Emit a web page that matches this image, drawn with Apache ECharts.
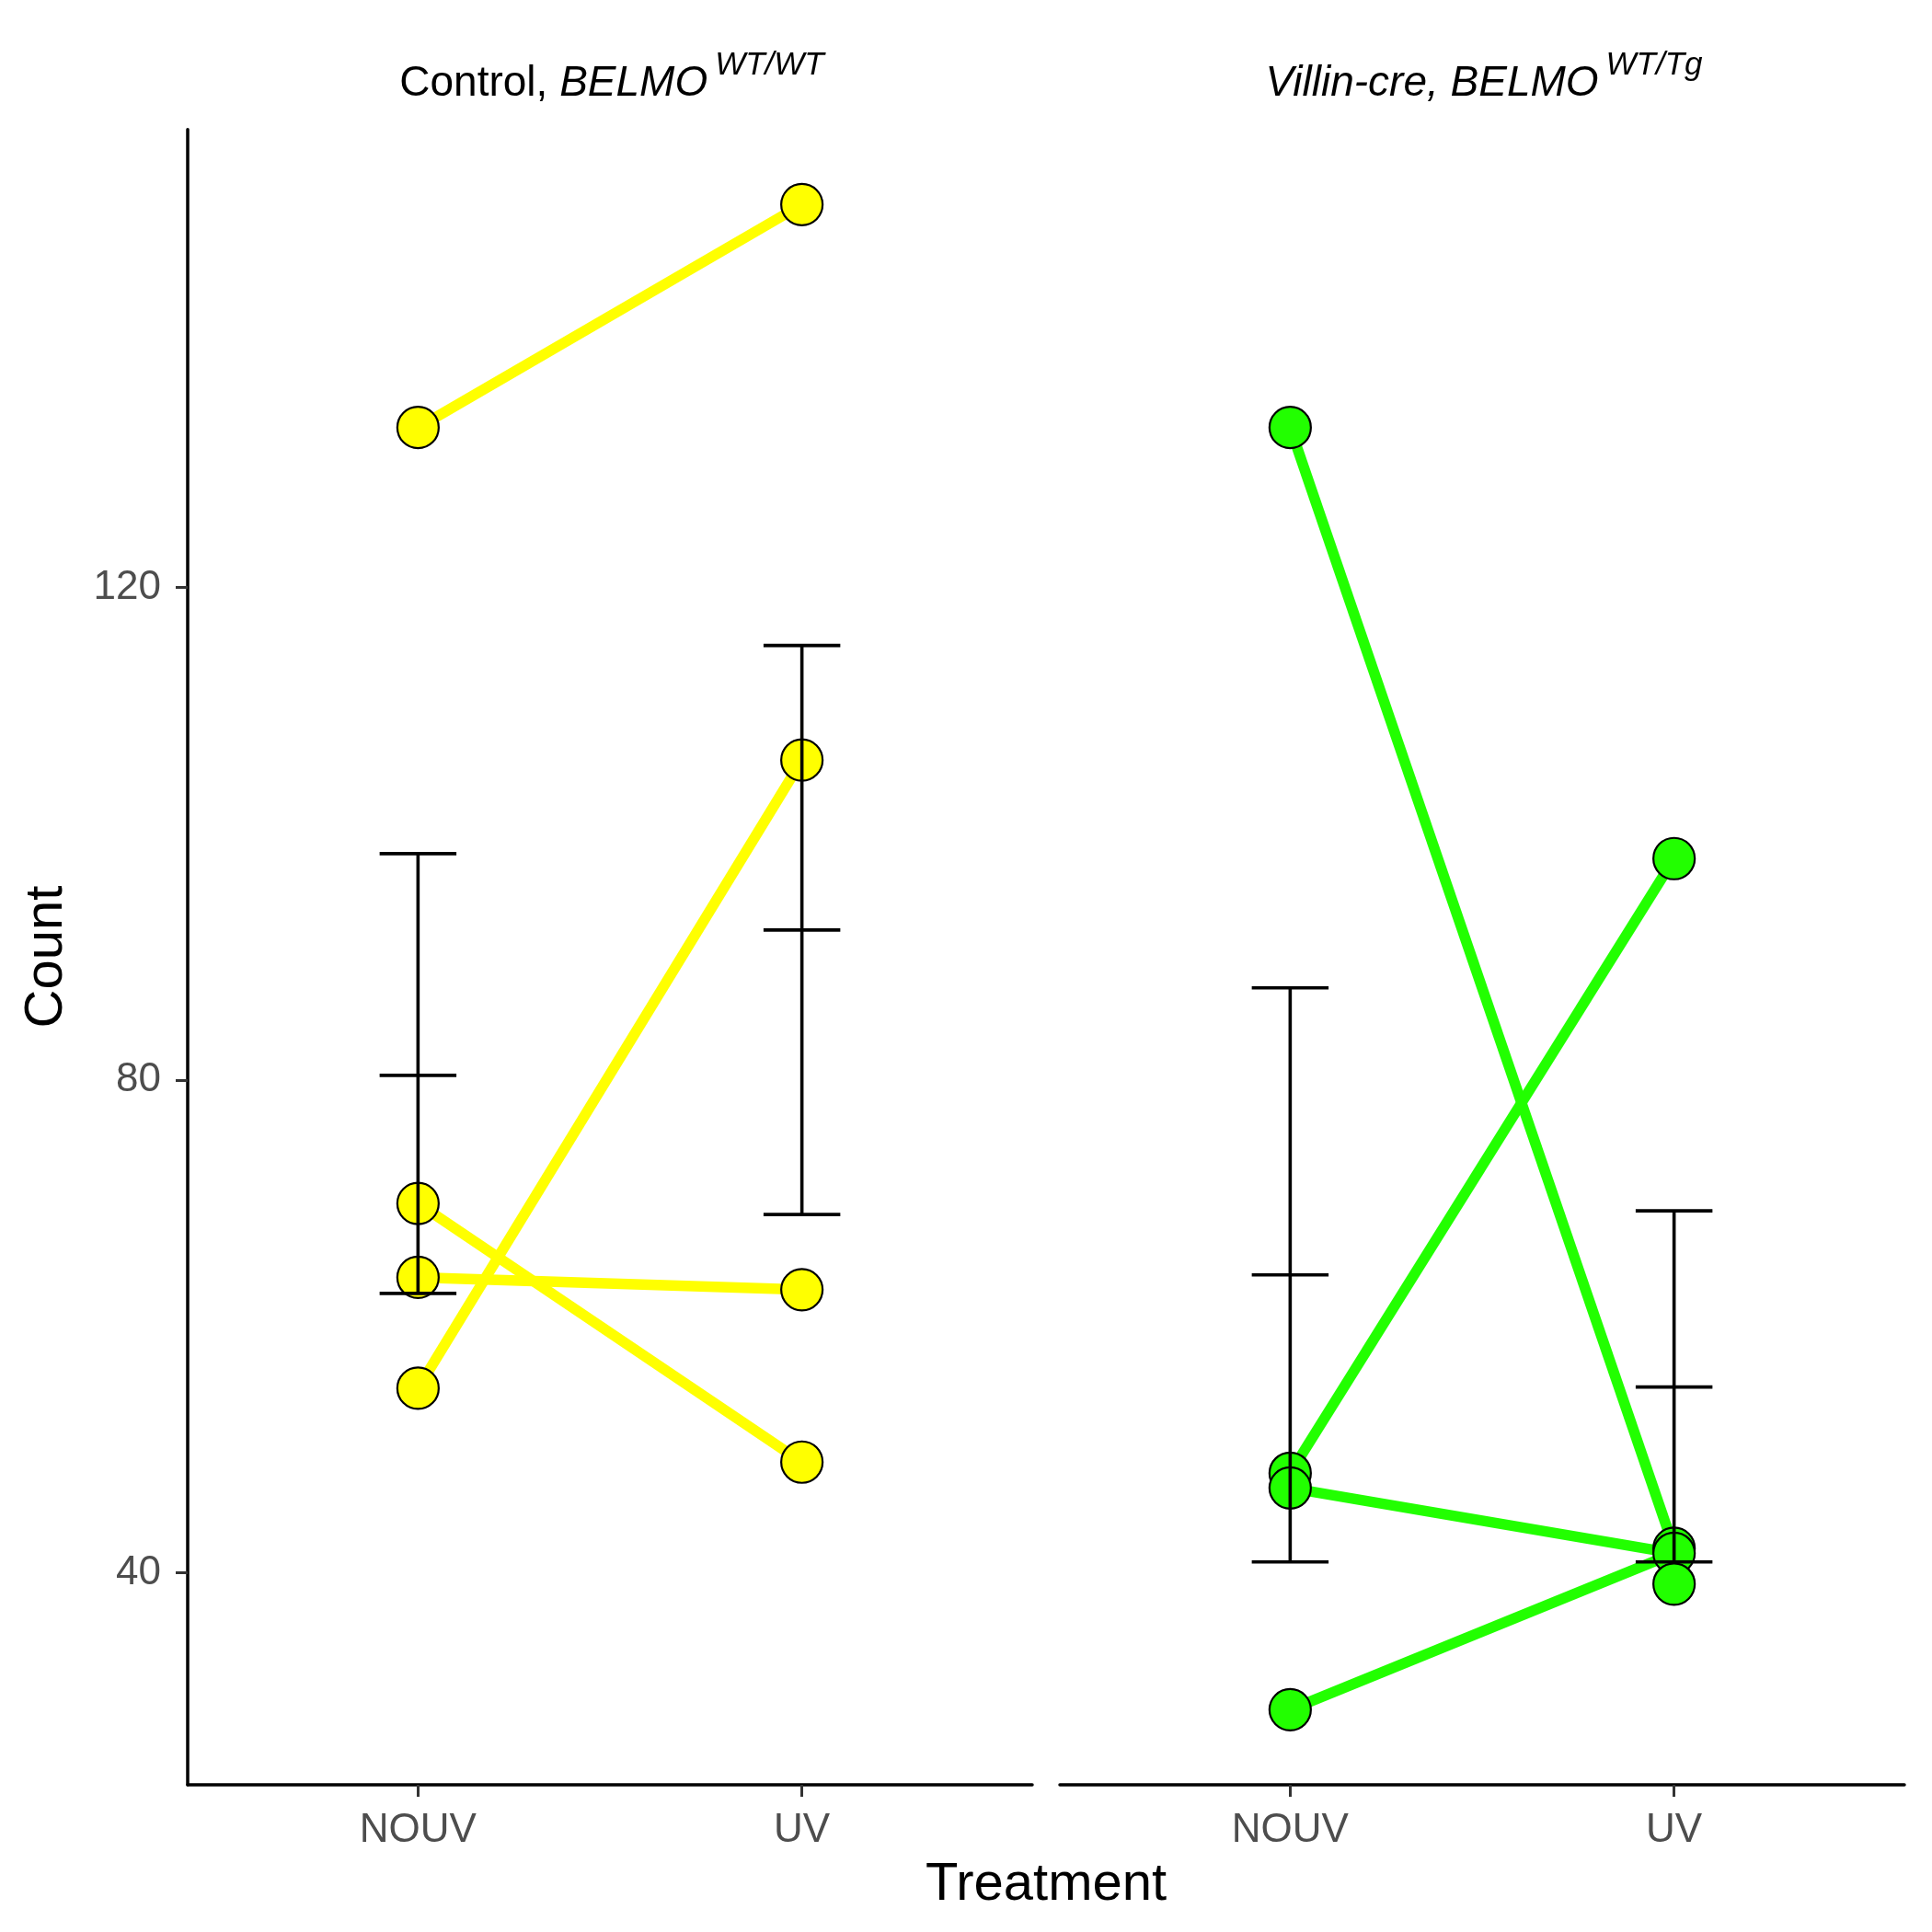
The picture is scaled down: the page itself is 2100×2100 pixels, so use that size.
<!DOCTYPE html>
<html><head><meta charset="utf-8">
<script src="https://cdn.jsdelivr.net/npm/echarts@6/dist/echarts.min.js"></script>
<style>html,body{margin:0;padding:0;background:#fff}#c{width:2100px;height:2100px}</style>
</head><body><div id="c"></div>
<script>
// ---- data ----
const treatments = ['NOUV', 'UV'];
const yTicks = [40, 80, 120];

// Control, BELMO WT/WT (paired by mouse)
const ctrlNOUV = [133, 70, 64, 55];
const ctrlUV = [151.1, 49, 63, 106];
const ctrlLinks = [[0, 0], [1, 1], [2, 2], [3, 3]];
const ctrlErrLow = [62.7, 69.1];
const ctrlErrMean = [80.4, 92.2];
const ctrlErrHigh = [98.4, 115.3];

// Villin-cre, BELMO WT/Tg
const villNOUV = [133, 48.1, 46.9, 28.9];
const villUV = [42, 98, 41.6, 39.1];
const villLinks = [[0, 0], [1, 1], [2, 2], [3, 2]];
const villErrLow = [40.9, 40.9];
const villErrMean = [64.2, 55.1];
const villErrHigh = [87.5, 69.4];

// ---- styling ----
const FONT = 'Liberation Sans';
const YELLOW = '#FFFF00';
const GREEN = '#22FF00';
const Y_MIN = 22.8, Y_MAX = 157.2;

const chart = echarts.init(document.getElementById('c'), null, {renderer: 'canvas'});

function xAxisDef(i) {
  return {
    type: 'value', gridIndex: i, min: 0.4, max: 2.6,
    axisLine: {show: true, onZero: false, lineStyle: {color: '#000', width: 3.5}},
    axisTick: {show: true, customValues: [1, 2], length: 13, lineStyle: {color: '#333', width: 3}},
    axisLabel: {show: true, customValues: [1, 2], formatter: v => treatments[Math.round(v) - 1],
      fontSize: 44, color: '#4D4D4D', fontFamily: FONT, margin: 28},
    splitLine: {show: false}
  };
}
function yAxisDef(i, show) {
  return {
    type: 'value', gridIndex: i, min: Y_MIN, max: Y_MAX, show: show,
    axisLine: {show: true, onZero: false, lineStyle: {color: '#000', width: 3.5}},
    axisTick: {show: true, customValues: yTicks, length: 13, lineStyle: {color: '#333', width: 3}},
    axisLabel: {show: true, customValues: yTicks, fontSize: 44, color: '#4D4D4D', fontFamily: FONT, margin: 29},
    splitLine: {show: false}
  };
}

function panelSeries(i, nouv, uv, links, lo, me, hi, color) {
  const out = [];
  links.forEach(([a, b]) => {
    out.push({
      type: 'line', xAxisIndex: i, yAxisIndex: i, z: 2, silent: true,
      data: [[1, nouv[a]], [2, uv[b]]], symbol: 'none',
      lineStyle: {color: color, width: 11.5, cap: 'butt'}
    });
  });
  out.push({
    type: 'scatter', xAxisIndex: i, yAxisIndex: i, z: 3, silent: true,
    data: nouv.map(v => [1, v]).concat(uv.map(v => [2, v])),
    symbolSize: 45,
    itemStyle: {color: color, borderColor: '#000', borderWidth: 2.2, opacity: 1}
  });
  out.push({
    type: 'custom', xAxisIndex: i, yAxisIndex: i, z: 4, silent: true,
    data: [1, 2].map((x, k) => [x, lo[k], me[k], hi[k]]),
    encode: {x: 0, y: [1, 2, 3]},
    renderItem: function (params, api) {
      const x = api.value(0);
      const pl = api.coord([x, api.value(1)]);
      const pm = api.coord([x, api.value(2)]);
      const ph = api.coord([x, api.value(3)]);
      const hw = api.size([0.1, 0])[0];
      const st = {stroke: '#000', lineWidth: 3.6};
      const seg = (x1, y1, x2, y2) => ({type: 'line', shape: {x1, y1, x2, y2}, style: st});
      return {type: 'group', children: [
        seg(pl[0], pl[1], ph[0], ph[1]),
        seg(pl[0] - hw, pl[1], pl[0] + hw, pl[1]),
        seg(pm[0] - hw, pm[1], pm[0] + hw, pm[1]),
        seg(ph[0] - hw, ph[1], ph[0] + hw, ph[1])
      ]};
    }
  });
  return out;
}

const rich = {
  n: {fontSize: 46, fontFamily: FONT, color: '#000', verticalAlign: 'bottom', padding: [14, 0, 0, 0]},
  i: {fontSize: 46, fontFamily: FONT, fontStyle: 'italic', color: '#000', verticalAlign: 'bottom', padding: [14, 0, 0, 0]},
  s: {fontSize: 35, fontFamily: FONT, fontStyle: 'italic', color: '#000', verticalAlign: 'top', padding: [0, 0, 0, 8]}
};

const option = {
  animation: false,
  backgroundColor: '#fff',
  grid: [
    {left: 204, top: 140.7, width: 918, height: 1799.3},
    {left: 1152, top: 140.7, width: 918, height: 1799.3}
  ],
  xAxis: [xAxisDef(0), xAxisDef(1)],
  yAxis: [yAxisDef(0, true), yAxisDef(1, false)],
  series: [].concat(
    panelSeries(0, ctrlNOUV, ctrlUV, ctrlLinks, ctrlErrLow, ctrlErrMean, ctrlErrHigh, YELLOW),
    panelSeries(1, villNOUV, villUV, villLinks, villErrLow, villErrMean, villErrHigh, GREEN)
  ),
  graphic: [
    {type: 'text', x: 665, y: 84, style: {text: '{n|Control, }{i|BELMO}{s|WT/WT}', rich: rich, align: 'center', verticalAlign: 'middle'}},
    {type: 'text', x: 1613, y: 84, style: {text: '{i|Villin-cre, BELMO}{s|WT/Tg}', rich: rich, align: 'center', verticalAlign: 'middle'}},
    {type: 'text', x: 51, y: 1040, rotation: Math.PI / 2, style: {text: 'Count', fontSize: 58, fontFamily: FONT, fill: '#000', align: 'center', verticalAlign: 'middle'}},
    {type: 'text', x: 1137, y: 2049, style: {text: 'Treatment', fontSize: 58, fontFamily: FONT, fill: '#000', align: 'center', verticalAlign: 'middle'}}
  ]
};
chart.setOption(option);
</script>
</body></html>
